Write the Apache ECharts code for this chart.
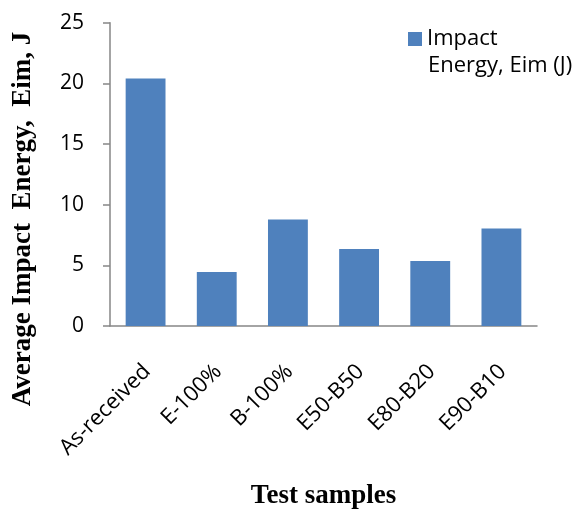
<!DOCTYPE html>
<html>
<head>
<meta charset="utf-8">
<script src="https://cdn.jsdelivr.net/npm/echarts@6/dist/echarts.min.js"></script>
<style>html,body{margin:0;padding:0;background:#fff;}#c{width:587px;height:515px;}</style>
</head>
<body>
<div id="c"></div>
<script>
const categories = ['As-received', 'E-100%', 'B-100%', 'E50-B50', 'E80-B20', 'E90-B10'];
const impactEnergy = [20.4, 4.45, 8.77, 6.35, 5.35, 8.04];
const yTicks = [0, 5, 10, 15, 20, 25];
const seriesName = 'Impact Energy, Eim (J)';

const chart = echarts.init(document.getElementById('c'), null, {renderer: 'canvas'});
const axisColor = '#868686';
chart.setOption({
  animation: false,
  backgroundColor: '#fff',
  grid: {left: 110, right: 50, top: 22.7, bottom: 185, containLabel: false},
  legend: {
    data: [seriesName],
    left: 408, top: 28,
    padding: 0,
    itemWidth: 14, itemHeight: 14,
    icon: 'rect',
    formatter: () => 'Impact',
    textStyle: {fontFamily: 'Open Sans', fontSize: 22, color: '#000'}
  },
  xAxis: {
    type: 'category',
    data: categories,
    axisLine: {lineStyle: {color: axisColor, width: 1.5}},
    axisTick: {show: false},
    axisLabel: {rotate: 45, margin: 28, interval: 0, verticalAlign: 'top', padding: [0, 9, 0, 0], fontFamily: 'Open Sans', fontSize: 22, color: '#000'},
    name: 'Test samples',
    nameLocation: 'middle',
    nameGap: 157,
    nameTextStyle: {fontFamily: 'Liberation Serif', fontWeight: 'bold', fontSize: 27, color: '#000'}
  },
  yAxis: {
    type: 'value',
    min: yTicks[0], max: yTicks[yTicks.length - 1], interval: 5,
    axisLine: {show: true, lineStyle: {color: axisColor, width: 1.5}},
    axisTick: {show: true, length: 7, lineStyle: {color: axisColor, width: 1.5}},
    splitLine: {show: false},
    axisLabel: {margin: 26, fontFamily: 'Open Sans', fontSize: 21, color: '#000'}
  },
  graphic: [{
    type: 'text',
    x: 23, y: 219,
    rotation: Math.PI / 2,
    style: {
      text: 'Average Impact  Energy,  Eim, J',
      fontFamily: 'Liberation Serif', fontWeight: 'bold', fontSize: 27, fill: '#000',
      align: 'center', verticalAlign: 'middle'
    }
  }, {
    type: 'text',
    left: 428, top: 55,
    style: {
      text: 'Energy, Eim (J)',
      fontFamily: 'Open Sans', fontSize: 22, fill: '#000'
    }
  }],
  series: [{
    name: seriesName,
    type: 'bar',
    data: impactEnergy,
    barWidth: '56%',
    itemStyle: {color: '#4F81BD'}
  }]
});
</script>
</body>
</html>
